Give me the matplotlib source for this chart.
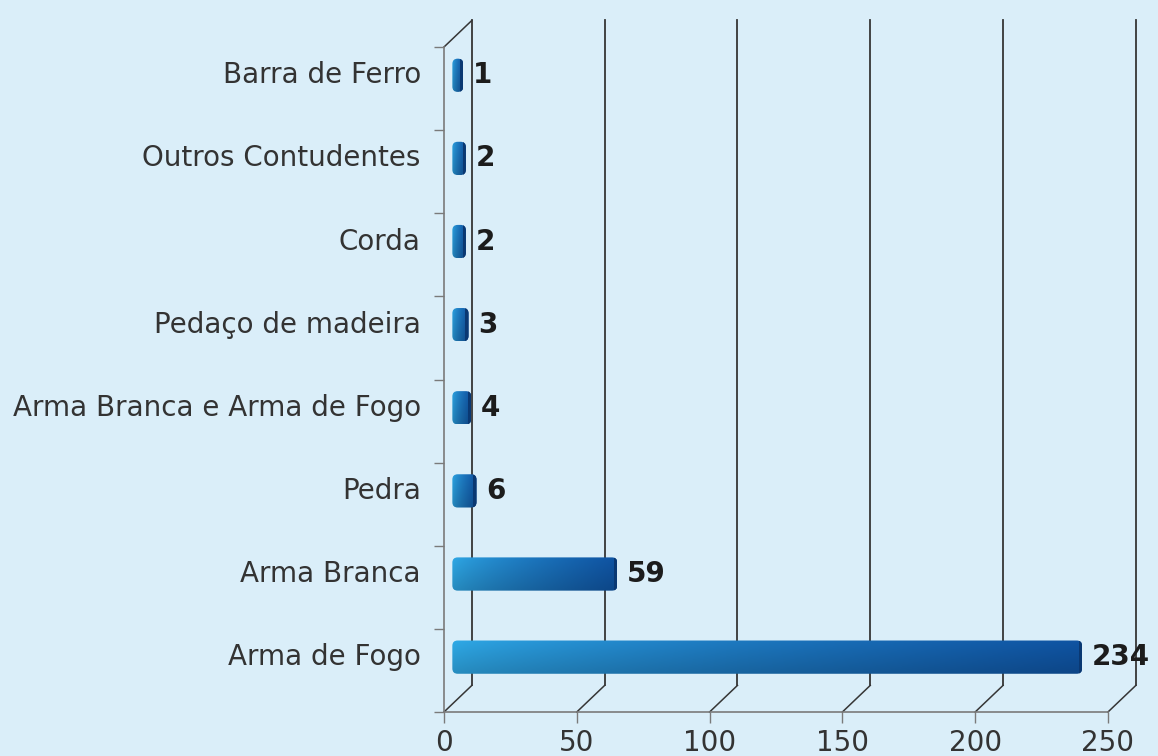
import matplotlib.pyplot as plt
import numpy as np
from matplotlib.patches import FancyBboxPatch, Rectangle
from matplotlib.colors import to_rgb

categories = ["Barra de Ferro", "Outros Contudentes", "Corda", "Pedaço de madeira",
              "Arma Branca e Arma de Fogo", "Pedra", "Arma Branca", "Arma de Fogo"]
values = [1, 2, 2, 3, 4, 6, 59, 234]
xticks = [0, 50, 100, 150, 200, 250]

bg = "#daeef9"
grid_col = "#363636"
light = np.array(to_rgb("#2c9ed6"))
dark = np.array(to_rgb("#0e4d96"))

fig = plt.figure(figsize=(11.58, 7.56), dpi=100)
fig.patch.set_facecolor(bg)
ax = fig.add_axes([0.3834, 0.0582, 0.5734, 0.8796])
ax.set_facecolor("none")

n = len(categories)
ypos = np.arange(n)[::-1]  # first category on top

# depth of the fake 3d box, in data units
DX, DY = 10.5, 0.32

# back wall + floor diagonals
for v in xticks:
    ax.plot([v + DX, v + DX], [-0.5 + DY, n - 0.5 + DY], color=grid_col, lw=1.3,
            clip_on=False, zorder=1)
    ax.plot([v, v + DX], [-0.5, -0.5 + DY], color=grid_col, lw=1.1, clip_on=False, zorder=1)
ax.plot([0, DX], [n - 0.5, n - 0.5 + DY], color=grid_col, lw=1.1, clip_on=False, zorder=1)

# bars (sitting half way into the box)
h = 0.4
asp = (1 / 83.1) / (1 / 2.656)
ramp = np.linspace(0, 1, 256) ** 0.7
shade = np.linspace(1.08, 0.9, 16)
for yp, cat, val in zip(ypos, categories, values):
    y = yp + DY / 2
    x0 = DX / 2 - 2.1
    x1 = DX / 2 + val + 1.0
    patch = FancyBboxPatch((x0, y - h / 2), x1 - x0, h,
                           boxstyle="round,pad=0,rounding_size=2.0",
                           mutation_aspect=asp, fc="none", ec="none", zorder=3)
    ax.add_patch(patch)
    row = light[None, :] * (1 - ramp[:, None]) + dark[None, :] * ramp[:, None]
    img = np.clip(row[None, :, :] * shade[:, None, None], 0, 1)
    im = ax.imshow(img, extent=[x0, x1, y - h / 2, y + h / 2], aspect="auto",
                   origin="upper", interpolation="bilinear", zorder=3)
    im.set_clip_path(patch)
    cap = Rectangle((x1 - 1.2, y - h / 2), 1.2, h, fc="#0a3872", ec="none", zorder=4)
    ax.add_patch(cap)
    cap.set_clip_path(patch)

    ax.text(x1 + 3.6, y, str(val), ha="left", va="center", fontsize=20,
            fontweight="bold", color="#1c1c1c", zorder=5)
    ax.text(-8.7, y, cat, ha="right", va="center", fontsize=20, color="#333333")

ax.set_xlim(0, 250)
ax.set_ylim(-0.5, n - 0.5)

for s in ["top", "right"]:
    ax.spines[s].set_visible(False)
for s in ["left", "bottom"]:
    ax.spines[s].set_color("#7a7a7a")
    ax.spines[s].set_linewidth(1.2)

ax.set_xticks(xticks)
ax.tick_params(axis="x", length=8, width=1, color="#7a7a7a", labelsize=20,
               labelcolor="#333333", pad=4)
ax.set_yticks(np.arange(-0.5, n, 1))
ax.set_yticklabels([])
ax.tick_params(axis="y", length=7, width=1, color="#7a7a7a")

plt.savefig("out.png", dpi=100, facecolor=bg)
